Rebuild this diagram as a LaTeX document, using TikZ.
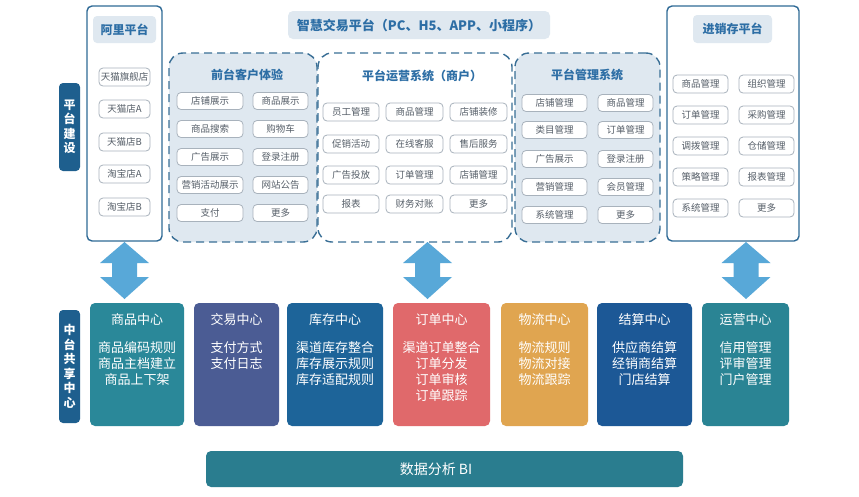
\documentclass[tikz,border=0pt]{standalone}
\usepackage{fontspec}
\setmainfont{Noto Sans CJK SC}
\definecolor{vlab}{HTML}{1E5F8E}
\definecolor{frameb}{HTML}{2F6A96}
\definecolor{dashb}{HTML}{3A6F96}
\definecolor{lightf}{HTML}{DFE8F0}
\definecolor{itemb}{HTML}{A8B2BC}
\definecolor{itemt}{HTML}{555E68}
\definecolor{titb}{HTML}{2D6EA5}
\definecolor{arrowc}{HTML}{58A8D8}
\definecolor{cA}{HTML}{2A8899}
\definecolor{cB}{HTML}{4B5C94}
\definecolor{cC}{HTML}{1D6499}
\definecolor{cD}{HTML}{E0696B}
\definecolor{cE}{HTML}{E0A550}
\definecolor{cF}{HTML}{1C5896}
\definecolor{cG}{HTML}{2A8494}
\definecolor{cBI}{HTML}{2A7D8F}
\begin{document}
\begin{tikzpicture}[x=1pt,y=-1pt,
  vlabel/.style={fill=vlab,rounded corners=4pt,text=white,align=center,inner sep=0pt,
    font=\fontsize{12}{14.5}\selectfont\bfseries,minimum width=21pt},
  framebox/.style={draw=frameb,line width=1.4pt,fill=white,rounded corners=5pt,inner sep=0pt},
  dashbox/.style={draw=dashb,line width=1.4pt,dash pattern=on 8pt off 5pt,rounded corners=14pt,inner sep=0pt},
  ptitle/.style={text=titb,font=\fontsize{12}{14}\selectfont\bfseries,inner sep=0pt},
  titlebg/.style={fill=lightf,rounded corners=4pt,inner sep=0pt},
  item/.style={draw=itemb,line width=0.8pt,fill=white,rounded corners=4pt,inner sep=0pt,
    text=itemt,font=\fontsize{9.5}{11}\selectfont},
  center/.style={rounded corners=5pt,inner sep=0pt,minimum height=123pt},
  ctitle/.style={text=white,font=\fontsize{13}{15}\selectfont,inner sep=0pt},
  cbody/.style={text=white,font=\fontsize{13}{16}\selectfont,align=center,inner sep=0pt,anchor=north}
]
\useasboundingbox[fill=white] (0,0) rectangle (859,496);

% vertical labels
\node[vlabel,minimum height=88pt] (lab1) at (69.5,127) {平\\台\\建\\设};
\node[vlabel,minimum height=113pt] (lab2) at (69.5,366.5) {中\\台\\共\\享\\中\\心};

% top title
\node[titlebg,minimum width=262pt,minimum height=28pt,rounded corners=5pt,text=titb,
  font=\fontsize{13}{15}\selectfont\bfseries] (top) at (419,25) {智慧交易平台（PC、H5、APP、小程序）};

% Ali platform
\node[framebox,minimum width=75pt,minimum height=235pt] (ali) at (124.5,123.5) {};
\node[titlebg,minimum width=63pt,minimum height=27pt] (alit) at (124.5,29.5) {};
\node[ptitle] (alitx) at (124.5,29.5) {阿里平台};
\foreach \t/\y [count=\i] in {天猫旗舰店/77,天猫店A/109,天猫店B/142,淘宝店A/174,淘宝店B/207}
  \node[item,minimum width=51pt,minimum height=18pt] (ali\i) at (124.5,\y) {\t};

% front
\node[dashbox,fill=lightf,minimum width=148pt,minimum height=189pt] (front) at (243,147.5) {};
\node[ptitle] (frontt) at (247,75) {前台客户体验};
\foreach \a/\b/\y [count=\i] in {店铺展示/商品展示/101,商品搜索/购物车/129,广告展示/登录注册/157,营销活动展示/网站公告/185,支付/更多/213}{
  \node[item,minimum width=66pt,minimum height=17pt] (fa\i) at (210,\y) {\a};
  \node[item,minimum width=55pt,minimum height=17pt] (fb\i) at (280.5,\y) {\b};
}

% operation
\node[dashbox,fill=white,minimum width=194pt,minimum height=189pt] (oper) at (415,147.5) {};
\node[ptitle] (opert) at (422,76) {平台运营系统（商户）};
\foreach \a/\b/\c/\y [count=\i] in {员工管理/商品管理/店铺装修/112,促销活动/在线客服/售后服务/144,广告投放/订单管理/店铺管理/175,报表/财务对账/更多/204}{
  \node[item,minimum width=56pt,minimum height=18pt] (oa\i) at (351,\y) {\a};
  \node[item,minimum width=57pt,minimum height=18pt] (ob\i) at (414.5,\y) {\b};
  \node[item,minimum width=57pt,minimum height=18pt] (oc\i) at (478.5,\y) {\c};
}

% management
\node[dashbox,fill=lightf,minimum width=145pt,minimum height=189pt] (mgmt) at (587.5,147.5) {};
\node[ptitle] (mgmtt) at (587,75) {平台管理系统};
\foreach \a/\b/\y [count=\i] in {店铺管理/商品管理/103,类目管理/订单管理/130,广告展示/登录注册/159,营销管理/会员管理/187,系统管理/更多/215}{
  \node[item,minimum width=65pt,minimum height=17pt] (ma\i) at (554.5,\y) {\a};
  \node[item,minimum width=55pt,minimum height=17pt] (mb\i) at (625.5,\y) {\b};
}

% jxc
\node[framebox,minimum width=132pt,minimum height=235pt] (jxc) at (733,123.5) {};
\node[titlebg,minimum width=79pt,minimum height=28pt] (jxct) at (732.5,29) {};
\node[ptitle] (jxctx) at (732.5,29) {进销存平台};
\foreach \a/\b/\y [count=\i] in {商品管理/组织管理/84,订单管理/采购管理/115,调拨管理/仓储管理/146,策略管理/报表管理/177,系统管理/更多/208}{
  \node[item,minimum width=55pt,minimum height=18pt] (ja\i) at (700.5,\y) {\a};
  \node[item,minimum width=55pt,minimum height=18pt] (jb\i) at (766.5,\y) {\b};
}

% centers
\foreach \n/\x/\w/\c/\t/\body in {
  c1/137/94/cA/商品中心/{商品编码规则\\商品主档建立\\商品上下架},
  c2/236.5/85/cB/交易中心/{支付方式\\支付日志},
  c3/335/96/cC/库存中心/{渠道库存整合\\库存展示规则\\库存适配规则},
  c4/441.5/97/cD/订单中心/{渠道订单整合\\订单分发\\订单审核\\订单跟踪},
  c5/544.5/87/cE/物流中心/{物流规则\\物流对接\\物流跟踪},
  c6/644.5/95/cF/结算中心/{供应商结算\\经销商结算\\门店结算},
  c7/745.5/87/cG/运营中心/{信用管理\\评审管理\\门户管理}}{
  \node[center,fill=\c,minimum width=\w pt] (\n) at (\x,364.5) {};
  \node[ctitle] (\n t) at (\x,320) {\t};
  \node[cbody] (\n b) at (\x,341.5) {\body};
}

% arrows
\coordinate (a1) at (124.5,242);
\coordinate (a2) at (427.5,242);
\coordinate (a3) at (746,242);
\foreach \a in {a1,a2,a3}
  \fill[arrowc] (\a) -- ++(24.5,21) -- ++(-12,0) -- ++(0,14) -- ++(12,0) -- ++(-24.5,22)
    -- ++(-24.5,-22) -- ++(12,0) -- ++(0,-14) -- ++(-12,0) -- cycle;

% BI
\node[fill=cBI,rounded corners=5pt,minimum width=477pt,minimum height=36pt,inner sep=0pt] (bi) at (444.5,469) {};
\node[text=white,font=\fontsize{14}{16}\selectfont,inner sep=0pt] (bit) at (436,469) {数据分析 BI};
\end{tikzpicture}
\end{document}
